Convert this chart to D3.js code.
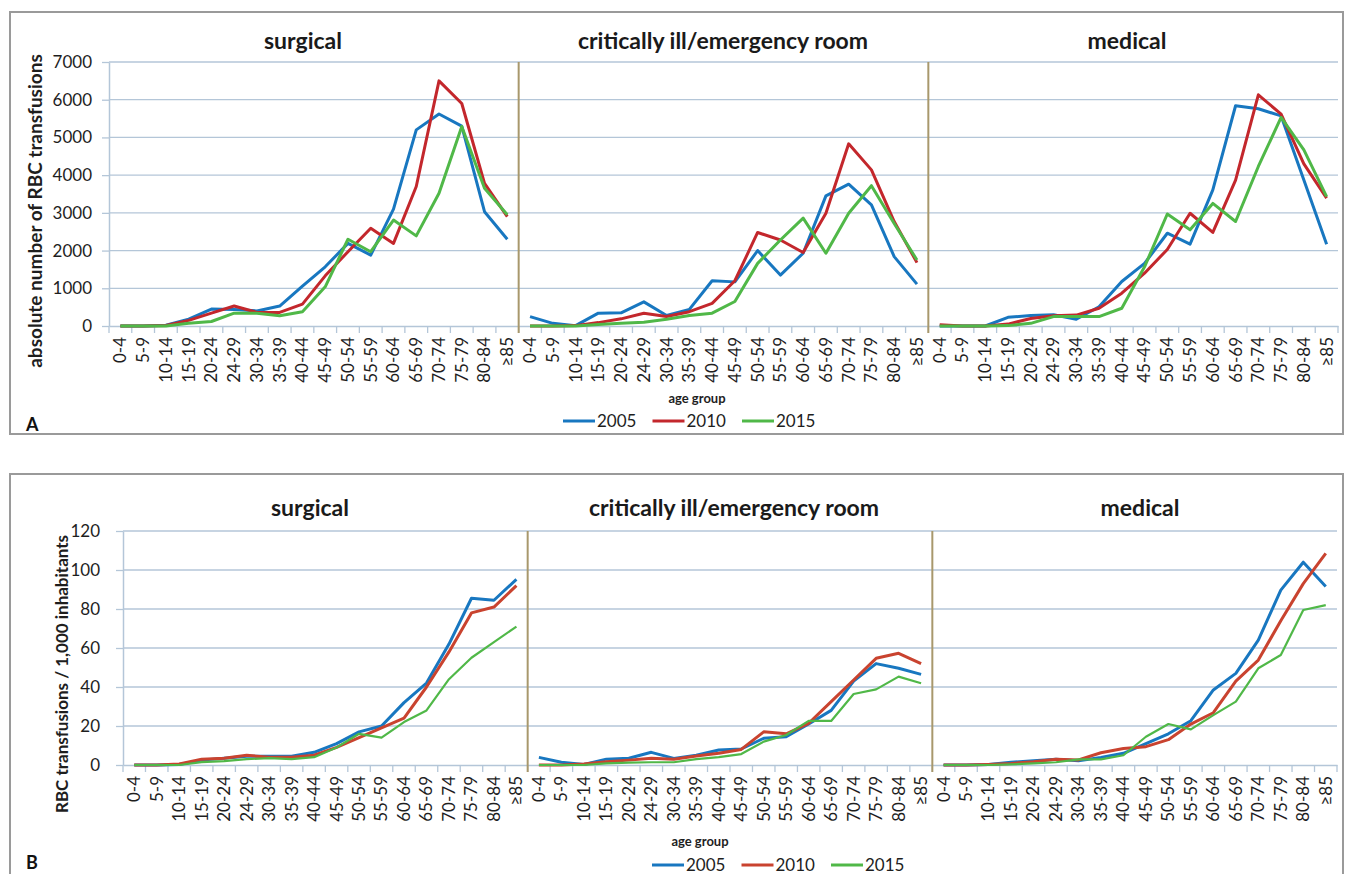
<!DOCTYPE html>
<html>
<head>
<meta charset="utf-8">
<script src="https://cdn.jsdelivr.net/npm/d3@7"></script>
<style>
  body { margin: 0; background: #fff; }
  svg { font-family: Lato, 'Open Sans', sans-serif; }
</style>
</head>
<body>
<div id="chart"></div>
<script>
var ageGroups = ['0-4', '5-9', '10-14', '15-19', '20-24', '24-29', '30-34', '35-39', '40-44',
  '45-49', '50-54', '55-59', '60-64', '65-69', '70-74', '75-79', '80-84', '≥85'];
var panelNames = ['surgical', 'critically ill/emergency room', 'medical'];
var years = ['2005', '2010', '2015'];
var absTicks = [0, 1000, 2000, 3000, 4000, 5000, 6000, 7000];
var rateTicks = [0, 20, 40, 60, 80, 100, 120];

// A: absolute number of RBC transfusions
var absSurg2005 = [0, 0, 20, 180, 450, 440, 400, 530, 1060, 1570, 2190, 1880, 3100, 5200, 5620, 5300, 3030, 2300];
var absSurg2010 = [0, 0, 15, 150, 340, 530, 360, 360, 580, 1330, 1970, 2590, 2190, 3700, 6500, 5900, 3780, 2900];
var absSurg2015 = [0, 0, 0, 70, 120, 340, 340, 270, 380, 1040, 2300, 1970, 2810, 2390, 3520, 5290, 3650, 2950];
var absCrit2005 = [250, 70, 10, 340, 350, 640, 280, 440, 1200, 1170, 2000, 1350, 1930, 3450, 3760, 3210, 1840, 1110];
var absCrit2010 = [0, 0, 10, 90, 190, 340, 250, 380, 600, 1200, 2480, 2280, 1950, 2990, 4830, 4140, 2770, 1680];
var absCrit2015 = [0, 0, 0, 40, 70, 100, 180, 280, 340, 650, 1660, 2280, 2860, 1930, 2990, 3720, 2720, 1750];
var absMed2005 = [0, 0, 0, 230, 280, 300, 180, 510, 1180, 1660, 2460, 2170, 3610, 5840, 5760, 5570, 3870, 2170];
var absMed2010 = [30, 0, 0, 50, 200, 270, 290, 470, 870, 1400, 2030, 2990, 2480, 3870, 6130, 5620, 4300, 3390];
var absMed2015 = [0, 0, 0, 10, 70, 250, 250, 250, 470, 1570, 2970, 2550, 3250, 2770, 4230, 5530, 4670, 3430];

// B: RBC transfusions / 1,000 inhabitants
var rateSurg2005 = [0, 0, 0.3, 2.5, 3.5, 4.5, 4.5, 4.5, 6.5, 11, 17, 20, 32, 42, 62, 85.5, 84.5, 95.2];
var rateSurg2010 = [0, 0, 0.5, 3, 3.5, 5, 4, 4, 5, 9, 14, 19, 24, 40, 58, 78, 81, 92];
var rateSurg2015 = [0, 0, 0, 1.5, 2, 3, 3.5, 3, 4, 9, 16, 14, 22, 28, 44, 55, 63, 71];
var rateCrit2005 = [3.9, 1.4, 0.3, 3, 3.5, 6.5, 3.4, 5, 7.7, 8.2, 13.7, 14.5, 21, 28, 43, 52, 49.6, 46.5];
var rateCrit2010 = [0, 0, 0.5, 1.7, 2.5, 3.4, 3, 4.6, 6, 8, 17, 16, 21.4, 32.5, 43.6, 54.7, 57.3, 52];
var rateCrit2015 = [0, 0, 0, 0.8, 1.2, 1.4, 1.4, 3, 4, 5.6, 12, 15.4, 22.6, 22.6, 36.4, 38.8, 45.3, 41.9];
var rateMed2005 = [0, 0, 0.3, 1.4, 2.2, 2.9, 2.2, 3.9, 6, 11, 16, 22.7, 38.5, 47, 64, 89.7, 104, 91.5];
var rateMed2010 = [0, 0, 0.3, 0.8, 1.7, 2.9, 2.6, 6.3, 8.5, 9.4, 13, 21, 26.8, 43, 53.8, 74, 93, 108.5];
var rateMed2015 = [0, 0, 0, 0.3, 0.8, 1.4, 2.9, 2.9, 5, 14.5, 21, 18.3, 25.6, 32.5, 49.6, 56.4, 79.5, 82];

var blue = '#1877c0';
var red = '#c3272c';
var green = '#50b848';
var gridColor = '#b4c6d8';
var sepColor = '#a8986c';
var textColor = '#1e1e1e';

var svg = d3.select('#chart').append('svg')
  .attr('width', 1354)
  .attr('height', 874);

function drawChart(opt) {
  var g = svg.append('g');

  g.append('rect')
    .attr('x', 10).attr('y', opt.boxTop)
    .attr('width', 1333).attr('height', opt.boxHeight)
    .style('fill', 'none').style('stroke', '#9a9a9a').style('stroke-width', 2);

  var keys = [];
  panelNames.forEach(function(p, pi) {
    ageGroups.forEach(function(a) { keys.push(pi + '|' + a); });
  });

  var x = d3.scaleBand().domain(keys).range([opt.left, opt.right]);
  var y = d3.scaleLinear().domain([0, d3.max(opt.ticks)]).range([opt.bottom, opt.top]);

  // gridlines
  g.selectAll('line.grid').data(opt.ticks.slice(1)).enter().append('line')
    .attr('x1', opt.left).attr('x2', opt.right)
    .attr('y1', function(d) { return y(d); })
    .attr('y2', function(d) { return y(d); })
    .style('stroke', gridColor).style('stroke-width', 1.3);

  // y axis
  var yAxisEle = g.append('g')
    .attr('transform', 'translate(' + opt.left + ',0)')
    .call(d3.axisLeft(y).tickValues(opt.ticks).tickFormat(d3.format('d'))
      .tickSize(7).tickSizeOuter(0).tickPadding(opt.tickPad));
  yAxisEle.select('.domain').style('stroke', gridColor).style('stroke-width', 1.5);
  yAxisEle.selectAll('.tick line').style('stroke', gridColor).style('stroke-width', 1.3);
  yAxisEle.selectAll('.tick text')
    .style('font-size', '17px').style('fill', textColor).style('font-family', 'Lato, sans-serif');

  // x axis labels
  var xAxisEle = g.append('g')
    .attr('transform', 'translate(0,' + opt.bottom + ')')
    .call(d3.axisBottom(x).tickSize(0).tickSizeOuter(0)
      .tickFormat(function(d) { return d.split('|')[1]; }));
  xAxisEle.select('.domain').style('stroke', gridColor).style('stroke-width', 1.5);
  xAxisEle.selectAll('.tick text')
    .attr('transform', 'rotate(-90)')
    .attr('x', -11).attr('y', 0).attr('dy', '0.35em')
    .style('text-anchor', 'end')
    .style('font-size', '17px').style('fill', textColor).style('font-family', 'Lato, sans-serif');

  // category boundary ticks
  var bounds = keys.map(function(k) { return x(k); }).concat([opt.right]);
  g.selectAll('line.xtick').data(bounds).enter().append('line')
    .attr('x1', function(d) { return d; }).attr('x2', function(d) { return d; })
    .attr('y1', opt.bottom).attr('y2', opt.bottom + 7)
    .style('stroke', gridColor).style('stroke-width', 1.3);

  // panel separators
  g.selectAll('line.sep').data([1, 2]).enter().append('line')
    .attr('x1', function(pi) { return x(pi + '|' + ageGroups[0]); })
    .attr('x2', function(pi) { return x(pi + '|' + ageGroups[0]); })
    .attr('y1', opt.top).attr('y2', opt.bottom + 7)
    .style('stroke', sepColor).style('stroke-width', 2);

  // panel titles
  g.selectAll('text.title').data(panelNames).enter().append('text')
    .attr('x', function(d, pi) { return opt.titleX[pi]; })
    .attr('y', opt.titleY)
    .style('text-anchor', 'middle')
    .style('font-size', '23px').style('font-weight', 'bold').style('fill', '#1a1a1a')
    .text(function(d) { return d; });

  // lines
  var line = function(pi) {
    return d3.line()
      .x(function(d, i) { return x(pi + '|' + ageGroups[i]) + x.bandwidth() / 2; })
      .y(function(d) { return y(d); });
  };
  opt.series.forEach(function(panelSeries, pi) {
    panelSeries.forEach(function(vals, yi) {
      g.append('path')
        .datum(vals)
        .attr('d', line(pi))
        .style('fill', 'none')
        .style('stroke', opt.colors[yi])
        .style('stroke-width', opt.widths[yi])
        .style('stroke-linejoin', 'round');
    });
  });

  // y axis title
  g.append('text')
    .attr('transform', 'translate(' + opt.yLabelX + ',' + opt.yLabelY + ') rotate(-90)')
    .attr('dy', '0.35em')
    .style('text-anchor', 'middle')
    .style('font-size', opt.yLabelSize).style('font-weight', 'bold').style('fill', textColor)
    .text(opt.yLabel);

  // x axis title
  g.append('text')
    .attr('x', opt.ageX).attr('y', opt.ageY)
    .style('text-anchor', 'middle')
    .style('font-size', '13px').style('font-weight', 'bold').style('fill', textColor)
    .text('age group');

  // legend
  var legend = g.append('g').attr('class', 'legend');
  years.forEach(function(yr, i) {
    var lx = opt.legendX + i * 89.5;
    legend.append('line')
      .attr('x1', lx).attr('x2', lx + 32)
      .attr('y1', opt.legendY).attr('y2', opt.legendY)
      .style('stroke', opt.colors[i]).style('stroke-width', 3);
    legend.append('text')
      .attr('x', lx + 34).attr('y', opt.legendY)
      .attr('dy', '0.35em')
      .style('font-size', '17px').style('fill', textColor)
      .text(yr);
  });

  // panel letter
  g.append('text')
    .attr('x', 26).attr('y', opt.letterY)
    .style('font-size', '18px').style('font-weight', 'bold').style('fill', '#111')
    .text(opt.letter);
}

drawChart({
  boxTop: 12, boxHeight: 422,
  left: 109, right: 1338, top: 62, bottom: 326,
  ticks: absTicks, tickPad: 10,
  titleX: [303, 723, 1127], titleY: 49,
  series: [[absSurg2005, absSurg2010, absSurg2015],
           [absCrit2005, absCrit2010, absCrit2015],
           [absMed2005, absMed2010, absMed2015]],
  colors: [blue, red, green], widths: [3, 3, 3],
  yLabel: 'absolute number of RBC transfusions', yLabelX: 35, yLabelY: 211, yLabelSize: '19px',
  ageX: 697, ageY: 403,
  legendX: 563, legendY: 421,
  letter: 'A', letterY: 431
});

drawChart({
  boxTop: 474, boxHeight: 420,
  left: 123, right: 1337, top: 531, bottom: 765,
  ticks: rateTicks, tickPad: 16,
  titleX: [310, 734, 1140], titleY: 516,
  series: [[rateSurg2005, rateSurg2010, rateSurg2015],
           [rateCrit2005, rateCrit2010, rateCrit2015],
           [rateMed2005, rateMed2010, rateMed2015]],
  colors: [blue, '#c9432f', green], widths: [3, 3, 2.2],
  yLabel: 'RBC transfusions / 1,000 inhabitants', yLabelX: 62, yLabelY: 674, yLabelSize: '17px',
  ageX: 700, ageY: 846,
  legendX: 652, legendY: 865,
  letter: 'B', letterY: 869
});
</script>
</body>
</html>
